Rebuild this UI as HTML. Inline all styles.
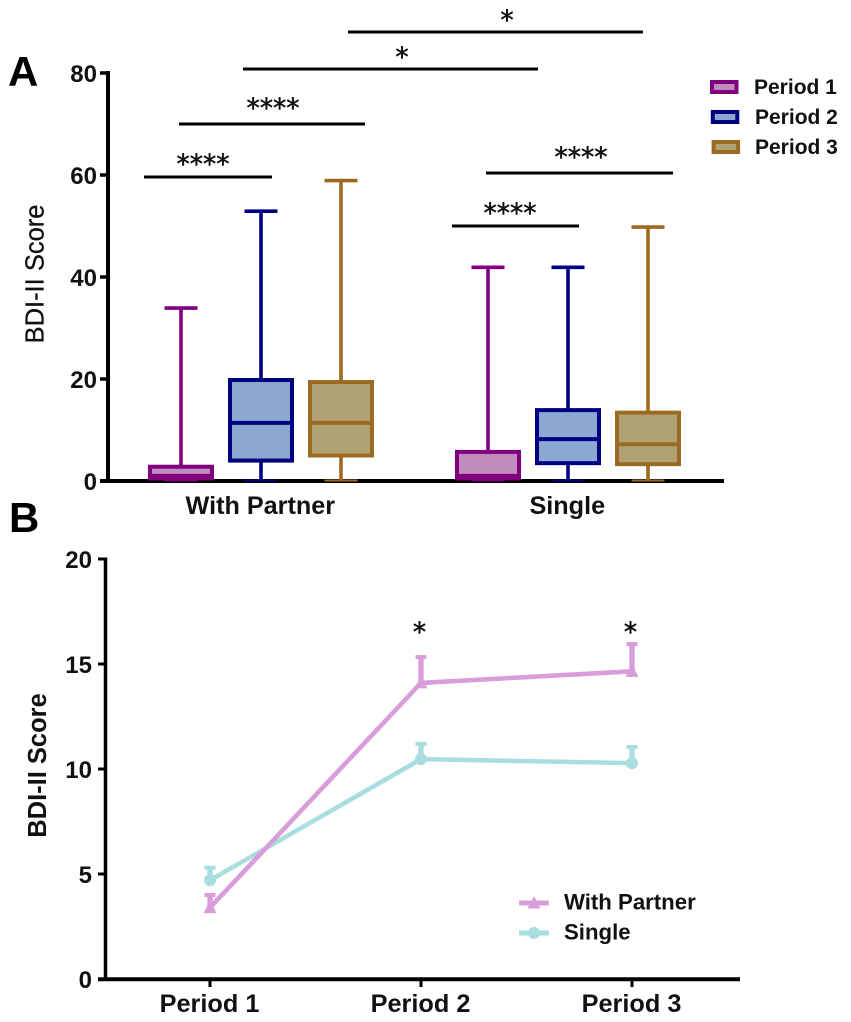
<!DOCTYPE html>
<html lang="en">
<head>
<meta charset="utf-8">
<title>BDI-II Score by relationship status and period</title>
<style>
html,body{margin:0;padding:0;background:#fff;width:851px;height:1022px;overflow:hidden}
svg{display:block;filter:blur(0.35px)}
text{font-family:"Liberation Sans",sans-serif;fill:#111}
.tick{font-weight:700;font-size:24px;text-anchor:end}
.cat{font-weight:700;font-size:25.2px;text-anchor:middle}
.leg{font-weight:700;font-size:21px}
.star{font-family:"DejaVu Sans",sans-serif;font-size:26.5px;text-anchor:middle;fill:#111;stroke:#111;stroke-width:0.5}
.sig{stroke:#000;stroke-width:3}
</style>
</head>
<body>
<svg id="chart" xmlns="http://www.w3.org/2000/svg" width="851" height="1022" viewBox="0 0 851 1022">
  <rect x="0" y="0" width="851" height="1022" fill="#fff"/>
  <text x="8" y="86" font-size="42" font-weight="700" style="fill:#000">A</text>
  <text x="9" y="532" font-size="42" font-weight="700" style="fill:#000">B</text>
  <text transform="translate(43.5,274) rotate(-90)" text-anchor="middle" font-size="25.5" stroke="#111" stroke-width="0.3">BDI-II Score</text>
  <text transform="translate(46,765.5) rotate(-90)" text-anchor="middle" font-size="25.5" font-weight="700">BDI-II Score</text>
  <g id="panelA"></g>
  <g>
    <line class="sig" x1="144" x2="272" y1="177" y2="177"/>
    <text class="star" x="203" y="173">****</text>
    <line class="sig" x1="179" x2="365" y1="124" y2="124"/>
    <text class="star" x="273" y="117">****</text>
    <line class="sig" x1="243" x2="538" y1="69" y2="69"/>
    <text class="star" x="402" y="66">*</text>
    <line class="sig" x1="348" x2="643" y1="32" y2="32"/>
    <text class="star" x="507" y="29">*</text>
    <line class="sig" x1="452" x2="579" y1="226" y2="226"/>
    <text class="star" x="510" y="222">****</text>
    <line class="sig" x1="486" x2="673" y1="173" y2="173"/>
    <text class="star" x="581" y="166">****</text>
  </g>
  <g id="legendA"></g>
  <g id="panelB"></g>
  <g id="legendB"></g>
</svg>
<script>
// Panel A data
const boxGroups = ['With Partner', 'Single'];
const boxPeriods = ['Period 1', 'Period 2', 'Period 3'];
const boxMin = [[0, 0, 0], [0, 0, 0]];
const boxQ1 = [[0.5, 4, 5], [0.5, 3.5, 3.3]];
const boxMedian = [[1, 11.4, 11.4], [1, 8.2, 7.2]];
const boxQ3 = [[2.8, 19.8, 19.4], [5.7, 13.9, 13.4]];
const boxMax = [[33.9, 52.9, 58.9], [41.9, 41.9, 49.8]];
const ticksA = [0, 20, 40, 60, 80];
const strokeColors = ['#800080', '#000080', '#9c6a22'];
const fillColors = ['#c08cbc', '#8aa8d2', '#b0a272'];

// Panel B data
const linePeriods = ['Period 1', 'Period 2', 'Period 3'];
const lineSeriesNames = ['With Partner', 'Single'];
const partnerMeans = [3.4, 14.1, 14.65];
const partnerErrTop = [4.0, 15.33, 15.95];
const singleMeans = [4.7, 10.47, 10.28];
const singleErrTop = [5.3, 11.2, 11.05];
const ticksB = [0, 5, 10, 15, 20];
const lineStars = ['', '*', '*'];

const SVGNS = 'http://www.w3.org/2000/svg';
function mk(parent, tag, attrs, txt) {
  const el = document.createElementNS(SVGNS, tag);
  for (const k in attrs) el.setAttribute(k, attrs[k]);
  if (txt !== undefined) el.textContent = txt;
  parent.appendChild(el);
  return el;
}
const slug = s => s.toLowerCase().replace(/\s+/g, '-');

// Axis functions
const yA = v => 481 - v * 5.1;
const xA = (g, p) => 181 + 307 * g + 80 * p;
const yB = v => 979 - v * 21;
const xB = i => 210 + 211 * i;

// ---------- Panel A ----------
const pa = document.getElementById('panelA');
let el;
el = mk(pa, 'line', {x1: 108, x2: 108, y1: yA(80) - 2, y2: yA(0) + 2, stroke: '#000', 'stroke-width': 4});


el = mk(pa, 'line', {x1: 100, x2: 724, y1: yA(0), y2: yA(0), stroke: '#000', 'stroke-width': 4});



ticksA.forEach(t => {
  const tm = mk(pa, 'line', {x1: 100, x2: 108, y1: yA(t), y2: yA(t), stroke: '#000', 'stroke-width': 3.5});
  
  
  const tl = mk(pa, 'text', {x: 97, y: yA(t) + 9, class: 'tick'}, String(t));
  
  
});

boxGroups.forEach((g, gi) => {
  const cl = mk(pa, 'text', {x: xA(gi, 1) - 0.7, y: 514, class: 'cat'}, g);
  
  
  boxPeriods.forEach((p, pi) => {
    const c = xA(gi, pi), col = strokeColors[pi];
    const grp = mk(pa, 'g', {});
    
    
    mk(grp, 'line', {x1: c, x2: c, y1: yA(boxMax[gi][pi]), y2: yA(boxMin[gi][pi]), stroke: col, 'stroke-width': 3.6});
    mk(grp, 'line', {x1: c - 16.5, x2: c + 16.5, y1: yA(boxMax[gi][pi]), y2: yA(boxMax[gi][pi]), stroke: col, 'stroke-width': 3.6});
    mk(grp, 'line', {x1: c - 16.5, x2: c + 16.5, y1: yA(boxMin[gi][pi]) - 0.5, y2: yA(boxMin[gi][pi]) - 0.5, stroke: col, 'stroke-width': 2});
    mk(grp, 'rect', {x: c - 31, width: 62, y: yA(boxQ3[gi][pi]), height: yA(boxQ1[gi][pi]) - yA(boxQ3[gi][pi]), fill: fillColors[pi], stroke: col, 'stroke-width': 4});
    mk(grp, 'line', {x1: c - 31, x2: c + 31, y1: yA(boxMedian[gi][pi]), y2: yA(boxMedian[gi][pi]), stroke: col, 'stroke-width': 4});
  });
});

// Legend A
const la = document.getElementById('legendA');
boxPeriods.forEach((p, i) => {
  const grp = mk(la, 'g', {});
  
  
  mk(grp, 'rect', {x: 712 + i * 0.8, y: 82 + i * 30, width: 24.5, height: 10, fill: fillColors[i], stroke: strokeColors[i], 'stroke-width': 4});
  mk(grp, 'text', {x: 754 + (i ? 1 : 0), y: 94 + i * 30, class: 'leg'}, p);
});

// ---------- Panel B ----------
const pb = document.getElementById('panelB');
el = mk(pb, 'line', {x1: 105.5, x2: 105.5, y1: yB(20) - 1.5, y2: yB(0) + 1.5, stroke: '#000', 'stroke-width': 3.5});


el = mk(pb, 'line', {x1: 98, x2: 740, y1: yB(0) + 0.3, y2: yB(0) + 0.3, stroke: '#000', 'stroke-width': 4});



ticksB.forEach(t => {
  const tm = mk(pb, 'line', {x1: 98, x2: 105, y1: yB(t), y2: yB(t), stroke: '#000', 'stroke-width': 3});
  
  
  const tl = mk(pb, 'text', {x: 92, y: yB(t) + 9, class: 'tick'}, String(t));
  
  
});

linePeriods.forEach((p, i) => {
  const tm = mk(pb, 'line', {x1: xB(i), x2: xB(i), y1: yB(0), y2: yB(0) + 8, stroke: '#000', 'stroke-width': 3});
  
  
  const tl = mk(pb, 'text', {x: xB(i) - 0.5, y: 1012, class: 'cat', style: 'font-size:25.3px'}, p);
  
  
  if (lineStars[i]) {
    const st = mk(pb, 'text', {x: xB(i) - 1.5, y: 641, class: 'star', style: 'fill:#000'}, lineStars[i]);
    
    
  }
});

function triangle(parent, cx, cy, col) {
  mk(parent, 'polygon', {points: (cx - 6.5) + ',' + (cy + 5.5) + ' ' + (cx + 6.5) + ',' + (cy + 5.5) + ' ' + cx + ',' + (cy - 7), fill: col});
}
function circle(parent, cx, cy, col) {
  mk(parent, 'circle', {cx: cx, cy: cy, r: 6, fill: col});
}
function drawSeries(name, means, tops, col, marker) {
  const grp = mk(pb, 'g', {});
  
  
  means.forEach((m, i) => {
    mk(grp, 'line', {x1: xB(i), x2: xB(i), y1: yB(m), y2: yB(tops[i]), stroke: col, 'stroke-width': 5.4});
    mk(grp, 'line', {x1: xB(i) - 5.5, x2: xB(i) + 5.5, y1: yB(tops[i]), y2: yB(tops[i]), stroke: col, 'stroke-width': 4});
  });
  mk(grp, 'polyline', {points: means.map((m, i) => xB(i) + ',' + yB(m)).join(' '), fill: 'none', stroke: col, 'stroke-width': 4.6});
  means.forEach((m, i) => marker(grp, xB(i), yB(m), col));
}
drawSeries(lineSeriesNames[1], singleMeans, singleErrTop, '#a9dde0', circle);
drawSeries(lineSeriesNames[0], partnerMeans, partnerErrTop, '#d99ddc', triangle);

// Legend B
const lb = document.getElementById('legendB');
lineSeriesNames.forEach((n, i) => {
  const col = i === 0 ? '#d99ddc' : '#a9dde0';
  const grp = mk(lb, 'g', {});
  
  
  const y = 903 + i * 30;
  mk(grp, 'line', {x1: 519, x2: 549, y1: y, y2: y, stroke: col, 'stroke-width': 5});
  if (i === 0) triangle(grp, 534, y, col); else circle(grp, 534, y, col);
  mk(grp, 'text', {x: 564, y: y + 6.5, class: 'leg', style: 'font-size:22.2px'}, n);
});
</script>
</body>
</html>
